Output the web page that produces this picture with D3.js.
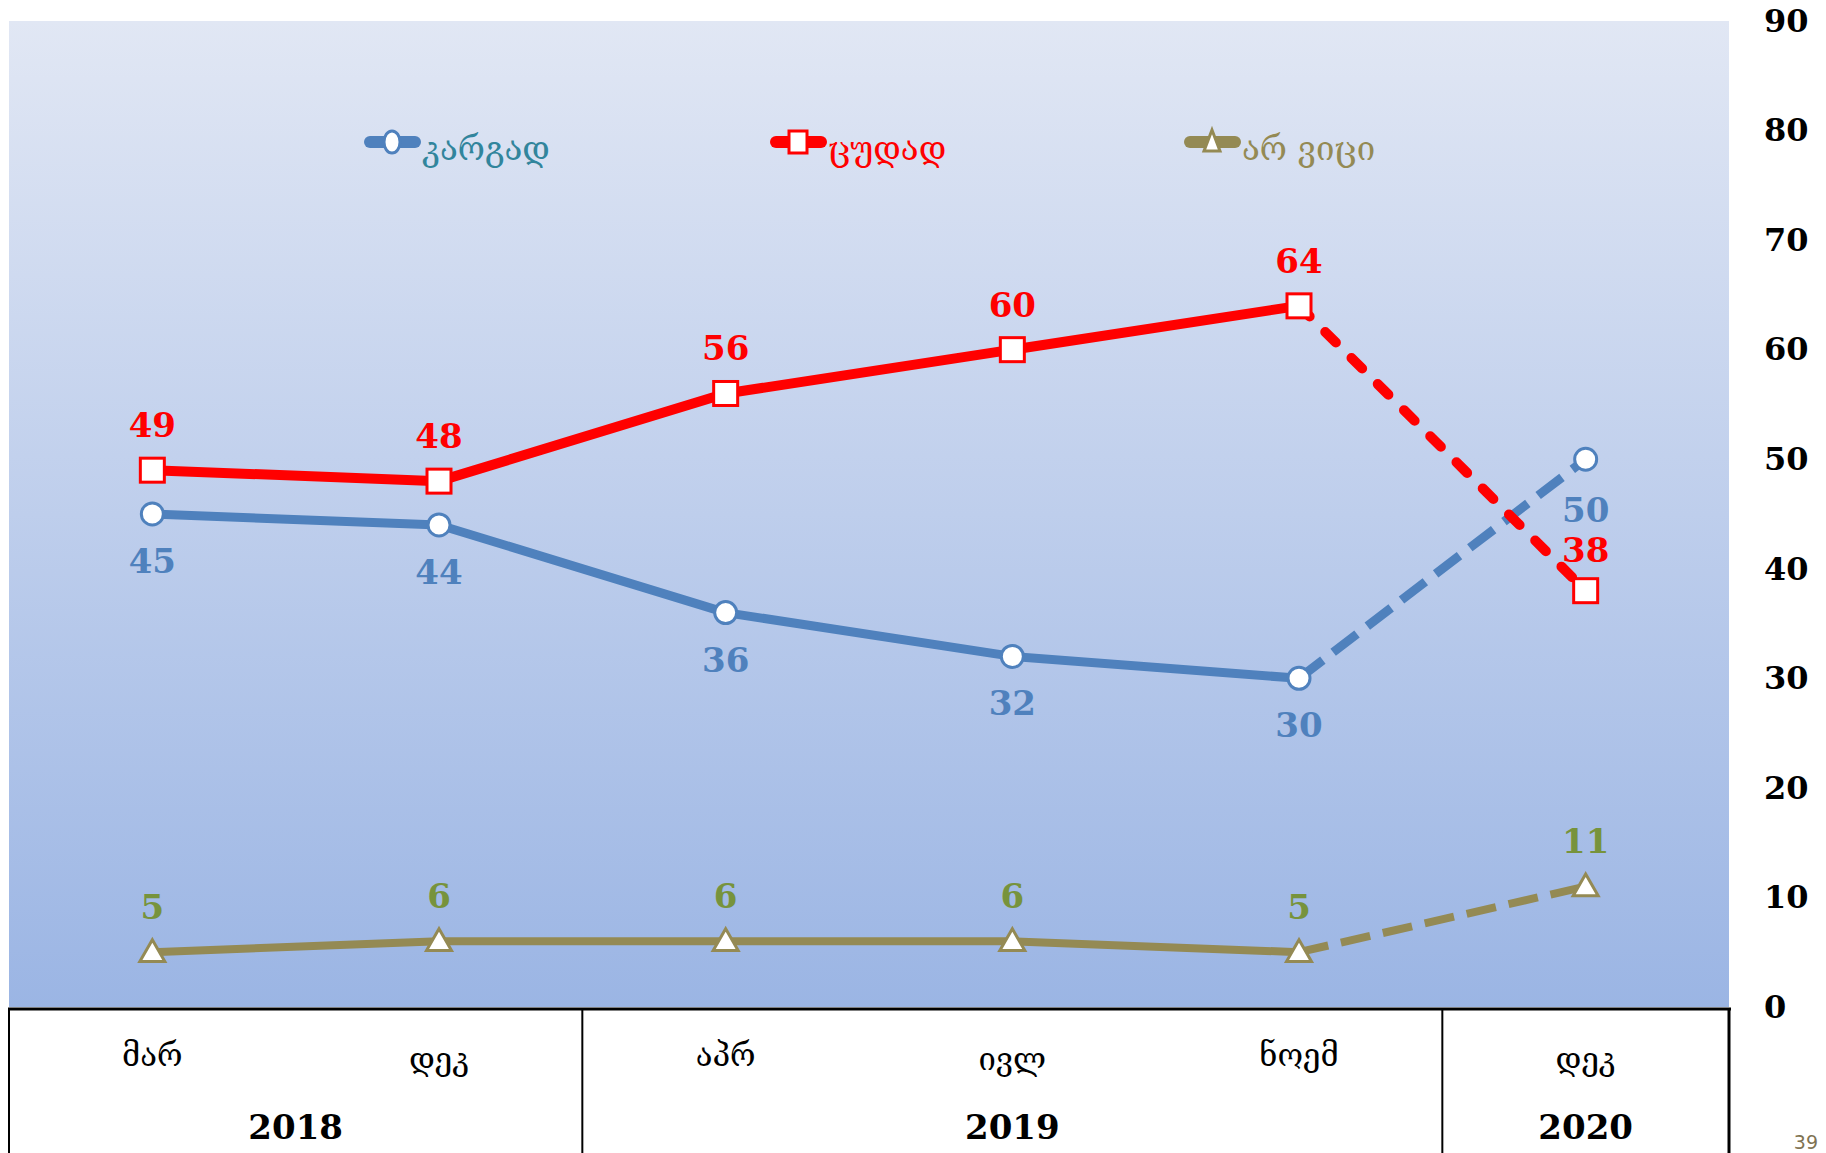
<!DOCTYPE html>
<html lang="ka">
<head>
<meta charset="UTF-8">
<title>კარგად / ცუდად / არ ვიცი</title>
<script src="https://cdn.jsdelivr.net/npm/d3@7/dist/d3.min.js"></script>
<style>
  *{margin:0;padding:0}
  body{background:#fff;width:1826px;height:1153px;overflow:hidden}
  svg{display:block;font-family:'DejaVu Serif','DejaVu Sans',serif}
</style>
</head>
<body>
<div id="chart"></div>
<script>
/* ---------- DATA ---------- */
const months   = ['მარ','დეკ','აპრ','ივლ','ნოემ','დეკ'];
const years    = [{label:'2018',from:0,to:2},{label:'2019',from:2,to:5},{label:'2020',from:5,to:6}];
const good     = [45,44,36,32,30,50];   // კარგად
const bad      = [49,48,56,60,64,38];   // ცუდად
const dontKnow = [5,6,6,6,5,11];        // არ ვიცი
const yTicks   = [0,10,20,30,40,50,60,70,80,90];
const solidUpTo = 4;                    // last point is joined with a dashed segment

const series = [
  {name:'კარგად', values:good,     color:'#4F81BD', label:'#4F81BD', legend:'#31859C', marker:'circle',   lw:9,  labelDy:47,  cap:'butt'},
  {name:'ცუდად',  values:bad,      color:'#FF0000', label:'#FF0000', legend:'#FF0000', marker:'square',   lw:10, labelDy:-45, cap:'round'},
  {name:'არ ვიცი',values:dontKnow, color:'#948A54', label:'#77933C', legend:'#948A54', marker:'triangle', lw:8,  labelDy:-45, cap:'butt'}
];

/* ---------- LAYOUT ---------- */
const W=1826,H=1153;
const plot={left:9,right:1729,top:21,bottom:1007};

const svg=d3.select('#chart').append('svg').attr('width',W).attr('height',H);

const x=d3.scaleBand().domain(d3.range(months.length)).range([plot.left,plot.right]).padding(0);
const cx=i=>x(i)+x.bandwidth()/2;
const y=d3.scaleLinear().domain([0,90]).range([plot.bottom,plot.top]);

/* background gradient */
const grad=svg.append('defs').append('linearGradient').attr('id','bg').attr('x1',0).attr('y1',0).attr('x2',0).attr('y2',1);
grad.append('stop').attr('offset','0%').attr('stop-color','#E1E7F4');
grad.append('stop').attr('offset','100%').attr('stop-color','#9BB5E4');
svg.append('rect').attr('x',plot.left).attr('y',plot.top)
   .attr('width',plot.right-plot.left).attr('height',plot.bottom-plot.top).attr('fill','url(#bg)');

/* y axis on the right, labels only */
const yAxis=svg.append('g').attr('transform',`translate(1764,0)`)
   .call(d3.axisRight(y).tickValues(yTicks).tickSize(0).tickPadding(0));
yAxis.select('.domain').remove();
yAxis.selectAll('text').attr('x',0).attr('text-anchor','start')
   .style('font-family','DejaVu Serif').style('font-size','32px').style('font-weight','bold').attr('fill','#000');

/* category table below the plot */
const tbl=svg.append('g');
tbl.append('line').attr('x1',plot.left-1).attr('x2',plot.right+2).attr('y1',plot.bottom+2).attr('y2',plot.bottom+2)
   .attr('stroke','#000').attr('stroke-width',3);
const seps=[0,2,5,6];
tbl.selectAll('line.sep').data(seps).enter().append('line').attr('class','sep')
   .attr('x1',d=>d===6?plot.right:x(d)).attr('x2',d=>d===6?plot.right:x(d))
   .attr('y1',plot.bottom+1).attr('y2',H)
   .attr('stroke','#000').attr('stroke-width',d=>d===6?3:2);
tbl.selectAll('text.month').data(months).enter().append('text').attr('class','month')
   .attr('x',(d,i)=>cx(i)).attr('y',(d,i)=>i===1||i===3||i===5?1070:1066)
   .attr('text-anchor','middle').style('font-size','31px').attr('fill','#000').text(d=>d);
tbl.selectAll('text.year').data(years).enter().append('text').attr('class','year')
   .attr('x',d=>(x(d.from)+(d.to>=months.length?plot.right:x(d.to)))/2).attr('y',1139)
   .attr('text-anchor','middle').style('font-size','34px').style('font-weight','bold').attr('fill','#000').text(d=>d.label);

/* ---------- LINES ---------- */
const line=d3.line().x(d=>cx(d.i)).y(d=>y(d.v));
series.forEach(s=>{
  const pts=s.values.map((v,i)=>({i,v}));
  const g=svg.append('g');
  g.append('path').datum(pts.slice(0,solidUpTo+1)).attr('d',line)
   .attr('fill','none').attr('stroke',s.color).attr('stroke-width',s.lw).attr('stroke-linejoin','round');
  g.append('path').datum(pts.slice(solidUpTo)).attr('d',line)
   .attr('fill','none').attr('stroke',s.color).attr('stroke-width',s.lw)
   .attr('stroke-linecap',s.cap).attr('stroke-dasharray',s.cap==='round'?'15,22':'30,13');
  drawMarkers(g,pts,s);
  g.selectAll('text').data(pts).enter().append('text')
   .attr('x',d=>cx(d.i)).attr('y',d=>y(d.v)+s.labelDy+(d.i===5&&s.marker!=='triangle'?4:0)).attr('dy','0.35em')
   .attr('text-anchor','middle').style('font-size','34px').style('font-weight','bold')
   .attr('fill',s.label).text(d=>d.v);
});

function drawMarkers(g,pts,s){
  const m=g.selectAll('.mk').data(pts).enter();
  if(s.marker==='circle'){
    m.append('circle').attr('cx',d=>cx(d.i)).attr('cy',d=>y(d.v)).attr('r',11)
     .attr('fill','#fff').attr('stroke',s.color).attr('stroke-width',3);
  }else if(s.marker==='square'){
    m.append('rect').attr('x',d=>cx(d.i)-12).attr('y',d=>y(d.v)-12).attr('width',24).attr('height',24)
     .attr('fill','#fff').attr('stroke',s.color).attr('stroke-width',3);
  }else{
    m.append('path').attr('d',d3.symbol(d3.symbolTriangle,270))
     .attr('transform',d=>`translate(${cx(d.i)},${y(d.v)+2})`)
     .attr('fill','#fff').attr('stroke',s.color).attr('stroke-width',3);
  }
}

/* ---------- LEGEND ---------- */
const legendX=[368,774,1188];
const lg=svg.append('g');
series.forEach((s,k)=>{
  const gx=legendX[k],gy=142;
  const item=lg.append('g').attr('transform',`translate(${gx},${gy})`);
  item.append('line').attr('x1',2).attr('x2',47).attr('y1',0).attr('y2',0)
      .attr('stroke',s.color).attr('stroke-width',12).attr('stroke-linecap','round');
  if(s.marker==='circle'){
    item.append('ellipse').attr('cx',24).attr('cy',0).attr('rx',8).attr('ry',11).attr('fill','#fff').attr('stroke',s.color).attr('stroke-width',3);
  }else if(s.marker==='square'){
    item.append('rect').attr('x',15).attr('y',-11).attr('width',18).attr('height',22).attr('fill','#fff').attr('stroke',s.color).attr('stroke-width',3);
  }else{
    item.append('path').attr('d','M24,-12 L32,9 L16,9 Z').attr('fill','#fff').attr('stroke',s.color).attr('stroke-width',3);
  }
  item.append('text').attr('x',54).attr('y',6).attr('dy','0.35em')
      .style('font-size','33px').attr('fill',s.legend).text(s.name);
});

/* page number */
svg.append('text').attr('x',1818).attr('y',1149).attr('text-anchor','end')
   .style('font-family','DejaVu Sans').style('font-size','19px').attr('fill','#7F7352').text('39');
</script>
</body>
</html>
